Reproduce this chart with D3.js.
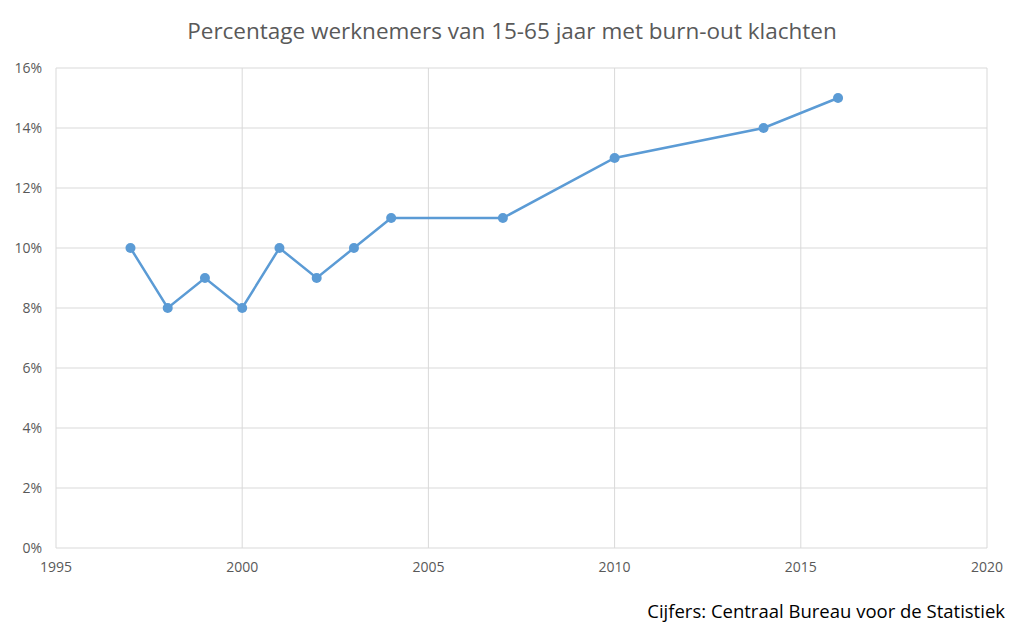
<!DOCTYPE html>
<html><head><meta charset="utf-8">
<script src="https://cdn.jsdelivr.net/npm/d3@7"></script>
<style>body{margin:0;background:#fff}</style>
</head><body>
<svg id="c" width="1024" height="640"></svg>
<script>
const years = [1997, 1998, 1999, 2000, 2001, 2002, 2003, 2004, 2007, 2010, 2014, 2016];
const pct = [10, 8, 9, 8, 10, 9, 10, 11, 11, 13, 14, 15];
const xTicks = [1995, 2000, 2005, 2010, 2015, 2020];
const yTicks = [0, 2, 4, 6, 8, 10, 12, 14, 16];
const title = "Percentage werknemers van 15-65 jaar met burn-out klachten";
const source = "Cijfers: Centraal Bureau voor de Statistiek";

const svg = d3.select("#c"), font = "'Open Sans', sans-serif", grey = "#595959";
const x = d3.scaleLinear().domain([1995, 2020]).range([56, 987]);
const y = d3.scaleLinear().domain([0, 16]).range([548, 68]);

// grid
svg.selectAll(".gy").data(yTicks).join("line")
  .attr("x1", 56).attr("x2", 987).attr("y1", d => y(d)).attr("y2", d => y(d))
  .attr("stroke", "#d9d9d9").attr("stroke-width", 1);
svg.selectAll(".gx").data(xTicks).join("line")
  .attr("y1", 68).attr("y2", 548).attr("x1", d => x(d)).attr("x2", d => x(d))
  .attr("stroke", "#d9d9d9").attr("stroke-width", 1);

// labels
svg.selectAll(".ly").data(yTicks).join("text")
  .attr("x", 42).attr("y", d => y(d) + 5).attr("text-anchor", "end")
  .attr("font-family", font).attr("font-size", 14).attr("fill", grey)
  .text(d => d + "%");
svg.selectAll(".lx").data(xTicks).join("text")
  .attr("x", d => x(d)).attr("y", 572).attr("text-anchor", "middle")
  .attr("font-family", font).attr("font-size", 14).attr("fill", grey)
  .text(d => d);

// line + points
const pts = years.map((yr, i) => [yr, pct[i]]);
svg.append("path").datum(pts)
  .attr("d", d3.line().x(d => x(d[0])).y(d => y(d[1])))
  .attr("fill", "none").attr("stroke", "#5b9bd5").attr("stroke-width", 2.5);
svg.selectAll(".pt").data(pts).join("circle")
  .attr("cx", d => x(d[0])).attr("cy", d => y(d[1])).attr("r", 5)
  .attr("fill", "#5b9bd5");

svg.append("text").attr("x", 512).attr("y", 39).attr("text-anchor", "middle")
  .attr("font-family", font).attr("font-size", 22.5).attr("fill", grey).text(title);
svg.append("text").attr("x", 1005).attr("y", 618).attr("text-anchor", "end")
  .attr("font-family", font).attr("font-size", 18.5).attr("fill", "#000").text(source);
</script>
</body></html>
